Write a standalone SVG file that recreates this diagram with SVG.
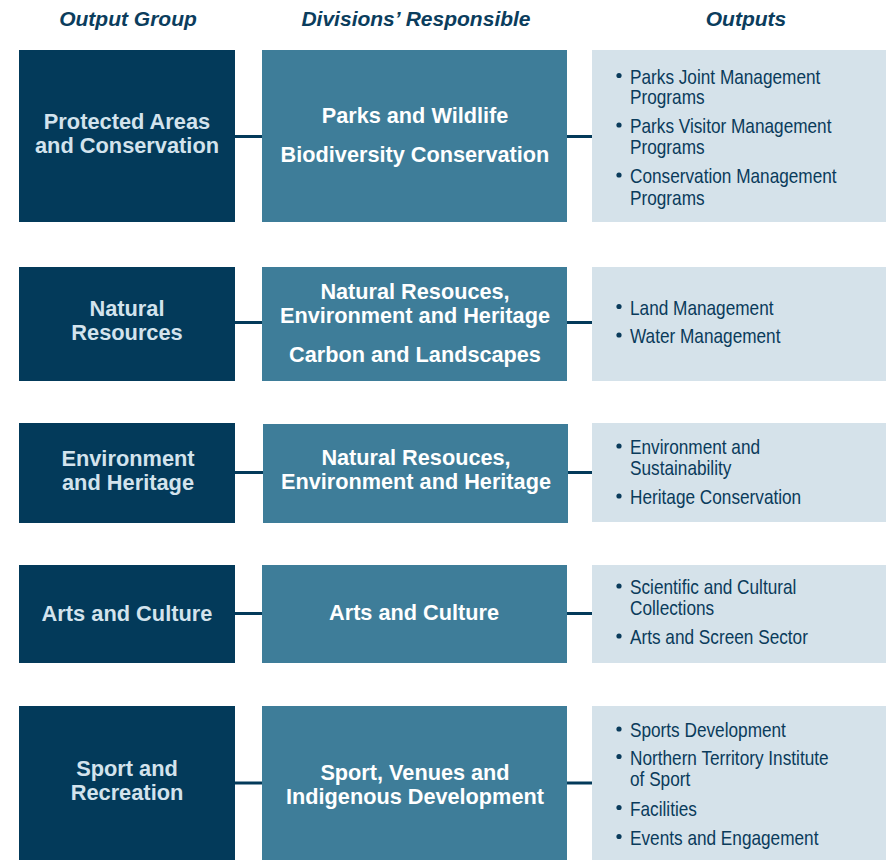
<svg xmlns="http://www.w3.org/2000/svg" width="886" height="860" viewBox="0 0 886 860">
<style>
.hd{font-family:"Liberation Sans",Arial,sans-serif;font-weight:bold;font-style:italic;font-size:21px;fill:#0b3d5d;text-anchor:middle}
.grp rect{fill:#033a5a}
.grp text{font-family:"Liberation Sans",Arial,sans-serif;font-weight:bold;font-size:21.8px;fill:#d3e3ed;text-anchor:middle}
.div rect{fill:#3e7d99}
.div text{font-family:"Liberation Sans",Arial,sans-serif;font-weight:bold;font-size:21.7px;fill:#ffffff;text-anchor:middle}
.out rect{fill:#d5e2ea}
.out text{font-family:"Liberation Sans",Arial,sans-serif;font-size:21px;fill:#0a3b5b}
.out circle{fill:#0a3b5b}
.con line{stroke:#033a5a;stroke-width:3}
</style>
<rect width="886" height="860" fill="#ffffff"/>
<g id="headers">
<text class="hd" x="128" y="26">Output Group</text>
<text class="hd" x="416" y="26">Divisions’ Responsible</text>
<text class="hd" x="746" y="26">Outputs</text>
</g>
<g id="connectors" class="con">
<line x1="235" y1="136.5" x2="262" y2="136.5"/>
<line x1="567" y1="136.5" x2="592" y2="136.5"/>
<line x1="235" y1="322.5" x2="262" y2="322.5"/>
<line x1="567" y1="322.5" x2="592" y2="322.5"/>
<line x1="235" y1="472.5" x2="263" y2="472.5"/>
<line x1="567" y1="472.5" x2="592" y2="472.5"/>
<line x1="235" y1="613.5" x2="262" y2="613.5"/>
<line x1="567" y1="613.5" x2="592" y2="613.5"/>
<line x1="235" y1="783" x2="262" y2="783"/>
<line x1="567" y1="783" x2="592" y2="783"/>
</g>
<!-- Row 1 -->
<g id="grp1" class="grp"><rect x="19" y="50" width="216" height="172"/>
<text x="127" y="129">Protected Areas</text><text x="127" y="153">and Conservation</text></g>
<g id="div1" class="div"><rect x="262" y="50" width="305" height="172"/>
<text x="415" y="122.5">Parks and Wildlife</text><text x="415" y="161.5">Biodiversity Conservation</text></g>
<g id="out1" class="out"><rect x="592" y="50" width="294" height="172"/>
<circle cx="619" cy="75.5" r="2.6"/><circle cx="619" cy="125" r="2.6"/><circle cx="619" cy="175" r="2.6"/>
<g transform="matrix(0.82 0 0 1 113.4 0)">
<text x="630" y="84">Parks Joint Management</text><text x="630" y="104.5">Programs</text>
<text x="630" y="133.5">Parks Visitor Management</text><text x="630" y="154.5">Programs</text>
<text x="630" y="183.5">Conservation Management</text><text x="630" y="205">Programs</text></g></g>
<!-- Row 2 -->
<g id="grp2" class="grp"><rect x="19" y="267" width="216" height="114"/>
<text x="127" y="316">Natural</text><text x="127" y="340">Resources</text></g>
<g id="div2" class="div"><rect x="262" y="267" width="305" height="114"/>
<text x="415" y="299">Natural Resouces,</text><text x="415" y="323">Environment and Heritage</text><text x="415" y="362">Carbon and Landscapes</text></g>
<g id="out2" class="out"><rect x="592" y="267" width="294" height="114"/>
<circle cx="619" cy="306.5" r="2.6"/><circle cx="619" cy="335" r="2.6"/>
<g transform="matrix(0.82 0 0 1 113.4 0)">
<text x="630" y="315">Land Management</text>
<text x="630" y="343.5">Water Management</text></g></g>
<!-- Row 3 -->
<g id="grp3" class="grp"><rect x="19" y="423" width="216" height="100"/>
<text x="128" y="466">Environment</text><text x="128" y="490">and Heritage</text></g>
<g id="div3" class="div"><rect x="263" y="424" width="305" height="99"/>
<text x="416" y="465">Natural Resouces,</text><text x="416" y="489">Environment and Heritage</text></g>
<g id="out3" class="out"><rect x="592" y="423" width="294" height="99"/>
<circle cx="619" cy="446" r="2.6"/><circle cx="619" cy="496" r="2.6"/>
<g transform="matrix(0.82 0 0 1 113.4 0)">
<text x="630" y="454.5">Environment and</text><text x="630" y="475">Sustainability</text>
<text x="630" y="504.5">Heritage Conservation</text></g></g>
<!-- Row 4 -->
<g id="grp4" class="grp"><rect x="19" y="565" width="216" height="98"/>
<text x="127" y="621">Arts and Culture</text></g>
<g id="div4" class="div"><rect x="262" y="565" width="305" height="98"/>
<text x="414" y="620">Arts and Culture</text></g>
<g id="out4" class="out"><rect x="592" y="565" width="294" height="98"/>
<circle cx="619" cy="586" r="2.6"/><circle cx="619" cy="636" r="2.6"/>
<g transform="matrix(0.82 0 0 1 113.4 0)">
<text x="630" y="594.5">Scientific and Cultural</text><text x="630" y="615">Collections</text>
<text x="630" y="644.5">Arts and Screen Sector</text></g></g>
<!-- Row 5 -->
<g id="grp5" class="grp"><rect x="19" y="706" width="216" height="154"/>
<text x="127" y="776">Sport and</text><text x="127" y="800">Recreation</text></g>
<g id="div5" class="div"><rect x="262" y="706" width="305" height="154"/>
<text x="415" y="780">Sport, Venues and</text><text x="415" y="804">Indigenous Development</text></g>
<g id="out5" class="out"><rect x="592" y="706" width="294" height="154"/>
<circle cx="619" cy="729" r="2.6"/><circle cx="619" cy="756.5" r="2.6"/><circle cx="619" cy="807.5" r="2.6"/><circle cx="619" cy="836.5" r="2.6"/>
<g transform="matrix(0.82 0 0 1 113.4 0)">
<text x="630" y="737.5">Sports Development</text>
<text x="630" y="765">Northern Territory Institute</text><text x="630" y="786.5">of Sport</text>
<text x="630" y="816">Facilities</text>
<text x="630" y="845">Events and Engagement</text></g></g>
</svg>
